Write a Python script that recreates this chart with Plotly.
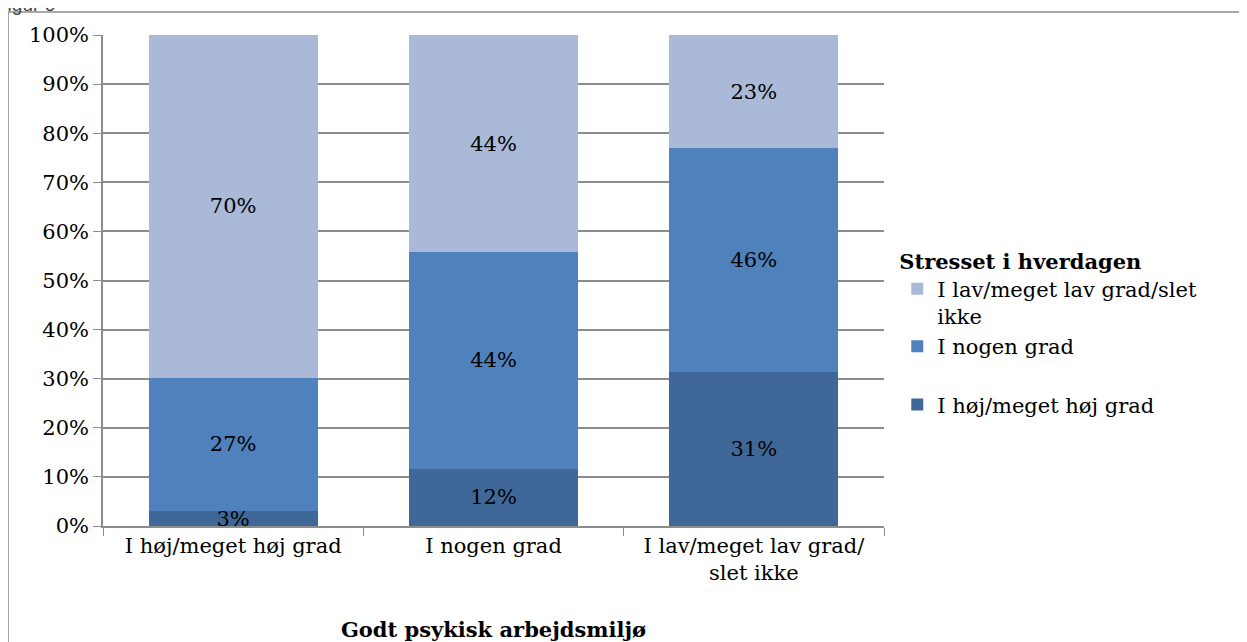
import plotly.graph_objects as go

categories = ['I høj/meget høj grad', 'I nogen grad', 'I lav/meget lav grad/<br>slet ikke']
series_names = ['I høj/meget høj grad', 'I nogen grad', 'I lav/meget lav grad/slet<br>ikke']
high = [3.0, 11.7, 31.4]
some = [27.2, 44.1, 45.5]
low = [69.8, 44.2, 23.1]
y_ticks = [0, 10, 20, 30, 40, 50, 60, 70, 80, 90, 100]
y_tick_labels = [f'{v}%' for v in y_ticks]

colors = ['#3F6899', '#4F81BD', '#AAB9D7']
ranks = [3, 2, 1]
groups = ['b', 'a', 'a']
serif = 'DejaVu Serif'
fsize = 21

fig = go.Figure()
for name, vals, col, rk, grp in zip(series_names, [high, some, low], colors, ranks, groups):
    fig.add_trace(go.Bar(
        x=categories,
        y=vals,
        name=name,
        legendgroup=grp,
        legendrank=rk,
        marker=dict(color=col, line=dict(width=0)),
        text=[f'{v:.0f}%' for v in vals],
        textposition='inside',
        insidetextanchor='middle',
        constraintext='none',
        textfont=dict(family=serif, size=fsize, color='black')
    ))

fig.update_layout(
    barmode='stack',
    bargap=0.35,
    width=1239,
    height=634,
    margin=dict(l=95, r=363, t=27, b=116),
    paper_bgcolor='white',
    plot_bgcolor='white',
    font=dict(family=serif, size=fsize, color='black'),
    uniformtext=dict(minsize=fsize, mode='show'),
    legend=dict(
        title=dict(text='<b>Stresset i hverdagen</b>', font=dict(family=serif, size=fsize)),
        traceorder='grouped',
        tracegroupgap=28,
        valign='top',
        x=1.017, xanchor='left',
        y=0.58, yanchor='top',
        font=dict(family=serif, size=fsize),
        itemwidth=30
    ),
    xaxis=dict(
        title=dict(text='<b>Godt psykisk arbejdsmiljø</b>', standoff=38,
                   font=dict(family=serif, size=fsize)),
        automargin=False,
        showline=True, linecolor='#8C8C8C', linewidth=1.5,
        ticks='outside', tickson='boundaries', ticklen=8, tickcolor='#8C8C8C',
        showgrid=False
    ),
    yaxis=dict(
        range=[0, 100],
        tickvals=y_ticks,
        ticktext=y_tick_labels,
        automargin=False,
        showline=True, linecolor='#8C8C8C', linewidth=1.5,
        ticks='outside', ticklen=8, tickcolor='#8C8C8C',
        showgrid=True, gridcolor='#8C8C8C', gridwidth=1.5,
        zeroline=False
    ),
    shapes=[dict(
        type='rect', xref='paper', yref='paper',
        x0=-0.1216, x1=1.46, y0=-0.4, y1=1.047,
        line=dict(color='#8C8C8C', width=1.5)
    )],
    annotations=[dict(
        text='Figur 6', xref='paper', yref='paper', x=-0.14, y=1,
        xanchor='left', yanchor='middle', yshift=31, showarrow=False,
        font=dict(family='Liberation Sans', size=19, color='#444444')
    )]
)

fig.write_html('out.html')
